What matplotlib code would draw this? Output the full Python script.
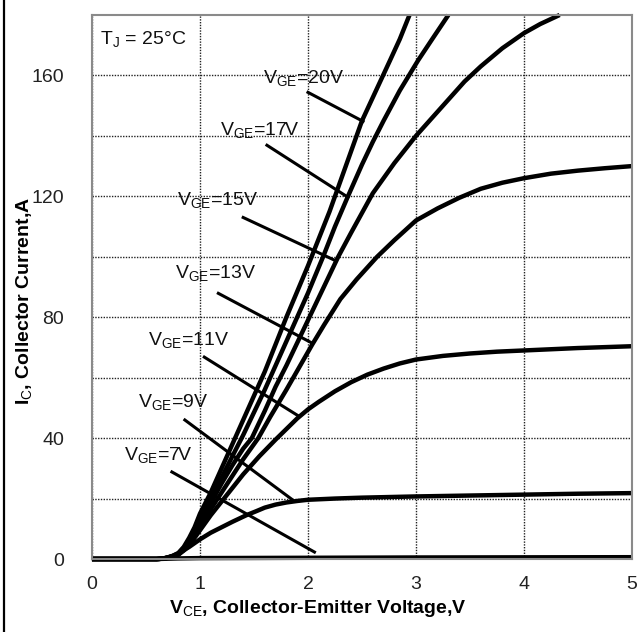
import matplotlib
matplotlib.use("Agg")
from matplotlib import pyplot as plt
from matplotlib.lines import Line2D

plt.rcParams['font.family'] = ['Liberation Sans', 'DejaVu Sans']
plt.rcParams['mathtext.fontset'] = 'custom'
plt.rcParams['mathtext.rm'] = 'Liberation Sans'
plt.rcParams['mathtext.it'] = 'Liberation Sans'
plt.rcParams['mathtext.bf'] = 'Liberation Sans:bold'

# Output curves (V_CE in V, I_C in A)
vce_20 = [0, 0.6, 0.65, 0.7, 0.75, 0.8, 0.85, 0.9, 0.95, 1.0, 1.1, 1.2, 1.3, 1.4, 1.5, 1.6,
          1.7, 1.8, 1.9, 2.0, 2.1, 2.2, 2.35, 2.5, 2.63, 2.76, 2.85, 2.94]
ic_20 = [0, 0, 0.1, 0.5, 1.1, 2, 4, 7, 10.5, 15, 22, 30, 38, 46, 54, 62,
         71, 80, 88.5, 97, 106, 115, 130, 145, 155, 165, 172, 180]

vce_17 = [0, 0.6, 0.65, 0.7, 0.75, 0.8, 0.85, 0.9, 0.95, 1.0, 1.1, 1.2, 1.3, 1.4, 1.5, 1.6,
          1.7, 1.8, 1.9, 2.0, 2.14, 2.25, 2.37, 2.5, 2.6, 2.7, 2.85, 3.02, 3.15, 3.3]
ic_17 = [0, 0, 0.1, 0.4, 1.0, 1.8, 3.6, 6, 9.2, 13, 20, 27, 34, 41, 48.5, 56,
         64, 72, 80, 88, 100, 110, 120, 130.5, 138, 145, 155, 165, 172, 180]

vce_15 = [0, 0.6, 0.65, 0.7, 0.75, 0.8, 0.85, 0.9, 0.95, 1.0, 1.1, 1.2, 1.3, 1.4, 1.48, 1.6,
          1.7, 1.8, 1.9, 2.0, 2.1, 2.28, 2.4, 2.5, 2.6, 2.8, 3.0, 3.15, 3.3, 3.45, 3.6,
          3.8, 4.0, 4.15, 4.33]
ic_15 = [0, 0, 0.1, 0.4, 0.9, 1.6, 3.3, 5.5, 8.5, 12, 18.5, 25, 31, 36.5, 40, 49,
         57, 64, 71.5, 79, 86.5, 100, 108, 114.5, 121, 131, 140, 146, 152, 158, 163,
         169, 174, 177, 180]

vce_13 = [0, 0.6, 0.65, 0.7, 0.75, 0.8, 0.85, 0.9, 0.95, 1.0, 1.1, 1.2, 1.3, 1.4, 1.54, 1.65,
          1.8, 1.92, 2.04, 2.15, 2.3, 2.45, 2.64, 2.8, 3.0, 3.2, 3.4, 3.6, 3.8, 4.0,
          4.25, 4.5, 4.75, 5.0]
ic_13 = [0, 0, 0.1, 0.4, 0.9, 1.5, 3.1, 5, 7.8, 11, 16.5, 22, 27.5, 33, 40, 47,
         56, 63.5, 71, 77.5, 86, 92.5, 100, 105.5, 112, 116, 119.5, 122.5, 124.5, 126,
         127.5, 128.5, 129.3, 130]

vce_11 = [0, 0.6, 0.65, 0.7, 0.75, 0.8, 0.85, 0.9, 0.95, 1.0, 1.1, 1.2, 1.3, 1.4, 1.55, 1.7,
          1.8, 1.9, 2.0, 2.1, 2.25, 2.4, 2.55, 2.7, 2.85, 3.0, 3.25, 3.5, 3.75, 4.0,
          4.5, 5.0]
ic_11 = [0, 0, 0.1, 0.4, 0.8, 1.4, 2.8, 4.5, 7, 9.5, 14.5, 19, 23.5, 28, 34, 39.5,
         43, 46.5, 49.5, 52, 55.5, 58.5, 61, 63, 64.7, 66, 67.2, 68, 68.6, 69,
         69.8, 70.4]

vce_9 = [0, 0.6, 0.65, 0.7, 0.75, 0.8, 0.85, 0.9, 1.0, 1.1, 1.2, 1.3, 1.43, 1.52, 1.6, 1.7,
         1.8, 1.9, 2.0, 2.25, 2.5, 3.0, 3.5, 4.0, 4.5, 5.0]
ic_9 = [0, 0, 0.1, 0.5, 1.0, 1.8, 2.9, 4, 6.5, 8.7, 10.5, 12.3, 14.5, 15.8, 17, 18,
        18.7, 19.2, 19.6, 20, 20.3, 20.7, 21, 21.3, 21.6, 21.8]

vce_7 = [0, 0.6, 0.8, 1.0, 2.0, 3.0, 4.0, 5.0]
ic_7 = [0, 0, 0.2, 0.3, 0.4, 0.5, 0.55, 0.6]

curves = [(vce_20, ic_20), (vce_17, ic_17), (vce_15, ic_15), (vce_13, ic_13),
          (vce_11, ic_11), (vce_9, ic_9), (vce_7, ic_7)]

# labels: text, text anchor (x, y), leader line start -> end
labels = ['20', '17', '15', '13', '11', '9', '7']
text_x = [1.58, 1.19, 0.79, 0.77, 0.52, 0.43, 0.30]
text_y = [159, 141.8, 118.7, 94.5, 72.4, 51.9, 34.4]
lead_x0 = [2.00, 1.62, 1.40, 1.17, 1.04, 0.86, 0.74]
lead_y0 = [154.4, 136.9, 113, 87.9, 66.8, 46, 28.8]
lead_x1 = [2.51, 2.37, 2.25, 2.04, 1.90, 1.86, 2.06]
lead_y1 = [144.8, 119.7, 98.8, 71.4, 47.6, 19.5, 2.3]

fig = plt.figure(figsize=(6.4, 6.32), dpi=100)
ax = fig.add_axes([0.1437, 0.1155, 0.8438, 0.8608])

ax.set_xlim(0, 5)
ax.set_ylim(0, 180)
ax.set_xticks([0, 1, 2, 3, 4, 5])
ax.set_yticks([0, 40, 80, 120, 160])
ax.set_yticks(range(20, 180, 40), minor=True)
ax.grid(True, which='both', linestyle=(0, (1, 1)), color='#222222', linewidth=1.0)
ax.tick_params(which='both', length=0, labelsize=14, colors='#222222')
ax.tick_params(axis='y', pad=20)
ax.tick_params(axis='x', pad=12)
ax.set_axisbelow(True)
for s in ax.spines.values():
    s.set_color('#8a8a8a')
    s.set_linewidth(1.5)

for x, y in curves:
    ax.plot(x, y, color='black', linewidth=3.2, solid_capstyle='butt',
            solid_joinstyle='round', clip_on=False)

for i, v in enumerate(labels):
    ax.plot([lead_x0[i], lead_x1[i]], [lead_y0[i], lead_y1[i]], color='black', linewidth=2.2)
    ax.text(text_x[i], text_y[i], r'V$_{\mathrm{GE}}$=' + v + 'V', fontsize=14,
            ha='left', va='center', color='#111111')

ax.text(0.07, 172, r'T$_{\mathrm{J}}$ = 25°C', fontsize=14, ha='left', va='center', color='#111111')

ax.set_xlabel(r'V$_{\mathrm{CE}}$, Collector-Emitter Voltage,V', fontsize=14, fontweight='bold')
ax.set_ylabel(r'I$_{\mathrm{C}}$, Collector Current,A', fontsize=14, fontweight='bold')
ax.xaxis.set_label_coords(0.419, -0.072)
ax.yaxis.set_label_coords(-0.108, 0.475)

# black border on the left edge of the figure
fig.add_artist(Line2D([0.0063, 0.0063], [0, 1], transform=fig.transFigure, color='black', linewidth=1.6))

fig.savefig('out.png', dpi=100)
